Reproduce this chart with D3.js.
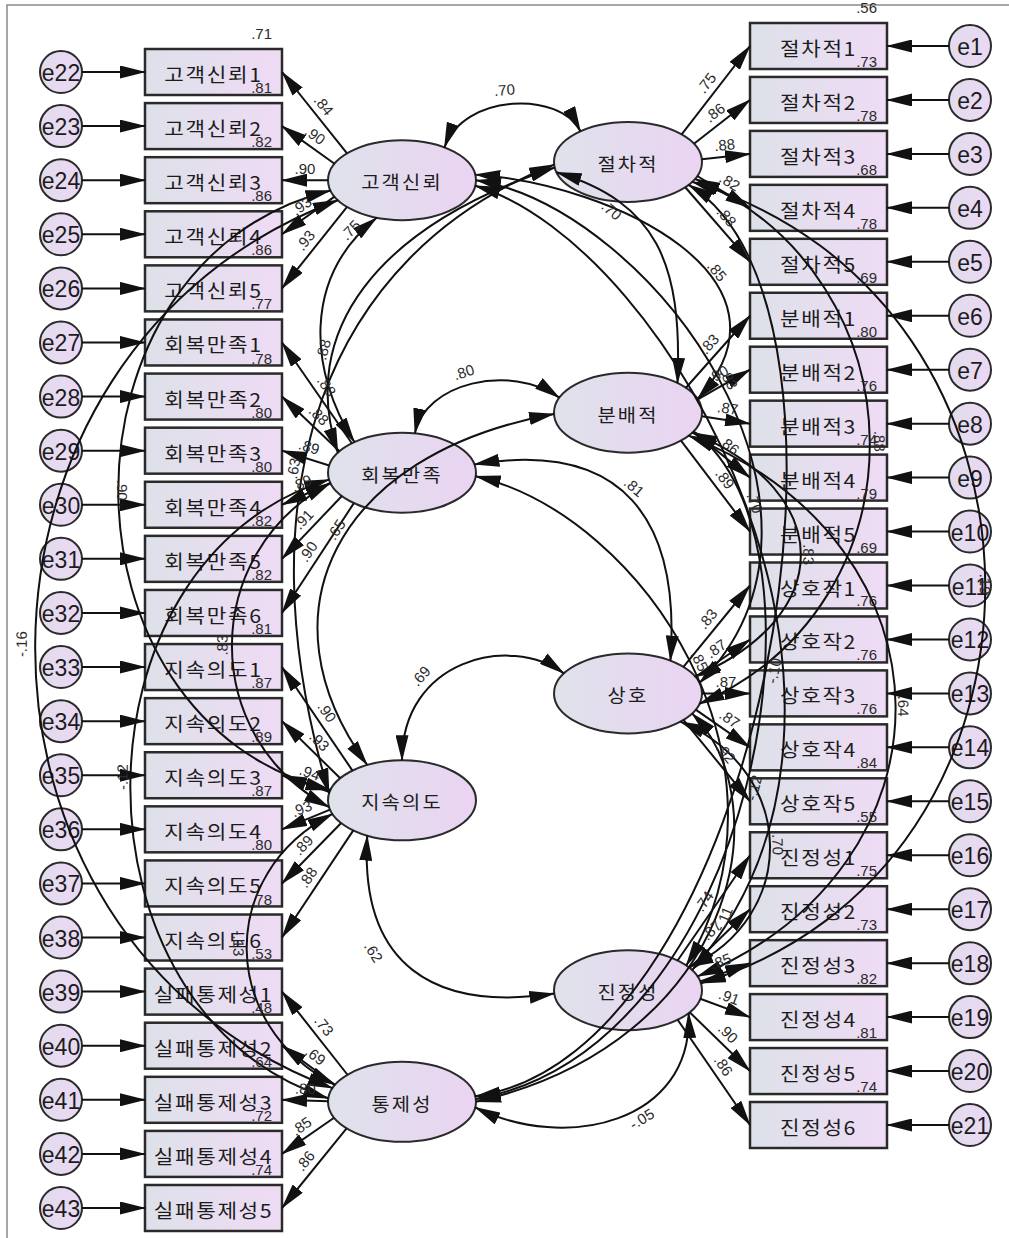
<!DOCTYPE html>
<html>
<head>
<meta charset="utf-8">
<script src="https://cdn.jsdelivr.net/npm/d3@7/dist/d3.min.js"></script>
<style>
  body { margin: 0; background: #fff; }
  svg { display: block; }
  .kr { font-family: "Noto Sans CJK KR", "Noto Sans", sans-serif; fill: #1c1c1c; }
  .num { font-family: "Liberation Sans", Arial, sans-serif; fill: #2b2b2b; font-size: 15px; }
  .err { font-family: "Liberation Sans", Arial, sans-serif; fill: #1c1c1c; font-size: 23px; }
</style>
</head>
<body>
<svg id="chart" width="1009" height="1238"></svg>
<script>
// ---- observed indicators (left column) ----
const leftItems = ["고객신뢰1","고객신뢰2","고객신뢰3","고객신뢰4","고객신뢰5",
  "회복만족1","회복만족2","회복만족3","회복만족4","회복만족5","회복만족6",
  "지속의도1","지속의도2","지속의도3","지속의도4","지속의도5","지속의도6",
  "실패통제성1","실패통제성2","실패통제성3","실패통제성4","실패통제성5"];
const leftErrors = d3.range(22, 44).map(i => "e" + i);
const leftR2 = [.71,.81,.82,.86,.86,.77,.78,.80,.80,.82,.82,.81,.87,.89,.87,.80,.78,.53,.48,.64,.72,.74];

// ---- observed indicators (right column) ----
const rightItems = ["절차적1","절차적2","절차적3","절차적4","절차적5",
  "분배적1","분배적2","분배적3","분배적4","분배적5",
  "상호작1","상호작2","상호작3","상호작4","상호작5",
  "진정성1","진정성2","진정성3","진정성4","진정성5","진정성6"];
const rightErrors = d3.range(1, 22).map(i => "e" + i);
const rightR2 = [.56,.73,.78,.68,.78,.69,.80,.76,.74,.79,.69,.76,.76,.76,.84,.55,.75,.73,.82,.81,.74];

// ---- latent factors ----
const leftLatents = ["고객신뢰","회복만족","지속의도","통제성"];
const leftCounts = [5, 6, 6, 5];
const rightLatents = ["절차적","분배적","상호","진정성"];
const rightCounts = [5, 5, 5, 6];

// standardized loadings
const loadTrust    = [.84,.90,.90,.93,.93];
const loadRecovery = [.88,.88,.89,.89,.91,.90];
const loadIntent   = [.90,.93,.94,.93,.89,.88];
const loadControl  = [.73,.69,.80,.85,.86];
const loadProc     = [.75,.86,.88,.82,.88];
const loadDist     = [.83,.90,.87,.86,.89];
const loadInter    = [.83,.87,.87,.87,.92];
const loadAuth     = [.74,.87,.85,.91,.90,.86];

// factor correlations
const covFrom  = ["고객신뢰","절차적","회복만족","회복만족","지속의도","지속의도","진정성",
  "고객신뢰","고객신뢰","고객신뢰","회복만족","지속의도","회복만족","분배적",
  "회복만족","지속의도","고객신뢰","고객신뢰","고객신뢰","회복만족",
  "절차적","절차적","분배적","분배적","상호","통제성","통제성","통제성"];
const covTo    = ["절차적","분배적","분배적","상호","상호","진정성","통제성",
  "회복만족","지속의도","통제성","통제성","통제성","지속의도","지속의도",
  "절차적","절차적","분배적","상호","진정성","진정성",
  "상호","진정성","상호","진정성","진정성","절차적","분배적","상호"];
const covValue = [.70,.70,.80,.81,.69,.62,-.05,
  .75,.90,-.16,-.12,-.13,.83,.65,
  .88,.63,.85,.83,.70,.85,
  .88,.19,.83,.64,.70,-.10,-.12,-.11];

// ---- layout ----
const W = 1009, H = 1238;
const boxW = 137, boxH = 46;
const leftBoxX = 145, rightBoxX = 750;
const errLeftX = 61, errRightX = 970, errR = 21;
const latCX = { left: 402, right: 628 }, rx = 74, ry = 40;
const leftNudge = [0, -5, -2, 2], rightNudge = [8, -11, 0, 0];

const yLeft = d3.scaleLinear().domain([0, leftItems.length - 1]).range([72, 1208]);
const yRight = d3.scaleLinear().domain([0, rightItems.length - 1]).range([46, 1125]);

const fmt = v => (v < 0 ? "-" : "") + d3.format(".2f")(Math.abs(v)).replace(/^0/, "");

// latent nodes with indicator index ranges
const latents = {};
function buildLatents(names, counts, side, yScale, nudge, loads) {
  let start = 0;
  names.forEach((n, i) => {
    const idx = d3.range(start, start + counts[i]);
    latents[n] = { name: n, side, x: latCX[side],
      y: d3.mean(idx, j => yScale(j)) + nudge[i], idx, loads: loads[i] };
    start += counts[i];
  });
}
buildLatents(leftLatents, leftCounts, "left", yLeft, leftNudge,
  [loadTrust, loadRecovery, loadIntent, loadControl]);
buildLatents(rightLatents, rightCounts, "right", yRight, rightNudge,
  [loadProc, loadDist, loadInter, loadAuth]);

// routing of the correlation curves: anchor angles on ellipses, control offsets, label placement
const covRoute = [
  { aA: -55, bA: -130, c1: [20, -55], c2: [-20, -40], t: .5, lo: [-8, -14] },
  { aA: 165, bA: -48, c1: [100, 30], c2: [5, -120], t: .3, lo: [-16, 2] },
  { aA: -80, bA: -158, c1: [10, -50], c2: [-50, -35], t: .45, lo: [0, -14] },
  { aA: -12, bA: -55, c1: [150, -25], c2: [10, -140], t: .45, lo: [12, -4] },
  { aA: -90, bA: -150, c1: [0, -100], c2: [-55, -40], t: .3, lo: [-6, -14] },
  { aA: 118, bA: 175, c1: [-8, 130], c2: [-120, 18], t: .35, lo: [-14, 10] },
  { aA: 35, bA: 8, c1: [5, 110], c2: [90, 45], t: .4, lo: [0, 12] },
  { aA: 110, bA: -130, c1: [-75, 60], c2: [-45, -70], t: .08, lo: [-10, -3] },
  { aA: 165, bA: 195, c1: [-283, 70], c2: [-283, -70], t: .5, lo: [4, 0] },
  { aA: 150, bA: 200, c1: [-400, 150], c2: [-400, -150], t: .5, lo: [-14, 0] },
  { aA: 170, bA: 185, c1: [-265, 80], c2: [-264, -85], t: .5, lo: [-8, -10] },
  { aA: 160, bA: 205, c1: [-116, 60], c2: [-116, -60], t: .5, lo: [-8, -6] },
  { aA: 165, bA: 170, c1: [-131, 70], c2: [-130, -70], t: .5, lo: [-10, 0] },
  { aA: 178, bA: -118, c1: [-220, 40], c2: [-110, -150], t: .45, lo: [-12, 0] },
  { aA: -150, bA: 172, c1: [-40, -120], c2: [-180, 60], t: .3, lo: [-10, 0] },
  { aA: 190, bA: 176, c1: [-90, -300], c2: [-230, 90], t: .4, lo: [-10, 0] },
  { aA: -8, bA: -20, c1: [140, 10], c2: [110, -120], t: .6, lo: [10, 0] },
  { aA: 0, bA: -15, c1: [180, 30], c2: [170, -170], t: .5, lo: [10, 0] },
  { aA: 8, bA: -30, c1: [200, 60], c2: [230, -260], t: .5, lo: [10, 0] },
  { aA: 5, bA: -38, c1: [170, 40], c2: [120, -200], t: .5, lo: [10, 0] },
  { aA: 25, bA: 15, c1: [230, 100], c2: [230, -100], t: .5, lo: [10, 0] },
  { aA: 30, bA: -10, c1: [390, 118], c2: [380, -114], t: .5, lo: [0, 0] },
  { aA: 30, bA: -25, c1: [145, 60], c2: [141, -60], t: .5, lo: [8, 0] },
  { aA: 35, bA: -20, c1: [275, 110], c2: [265, -110], t: .5, lo: [8, 0] },
  { aA: 45, bA: -35, c1: [118, 50], c2: [110, -50], t: .5, lo: [8, 0] },
  { aA: -8, bA: 35, c1: [290, -40], c2: [200, 120], t: .5, lo: [8, 0] },
  { aA: -4, bA: 28, c1: [280, -50], c2: [150, 110], t: .5, lo: [8, 0] },
  { aA: 0, bA: 30, c1: [260, -60], c2: [90, 90], t: .5, lo: [8, 0] }
];

// ---- drawing ----
const svg = d3.select("#chart");
const defs = svg.append("defs");
function gradient(id, c0, c1) {
  const g = defs.append("linearGradient").attr("id", id)
    .attr("x1", "0%").attr("x2", "100%").attr("y1", "0%").attr("y2", "0%");
  g.append("stop").attr("offset", "0%").attr("stop-color", c0);
  g.append("stop").attr("offset", "100%").attr("stop-color", c1);
}
gradient("gBox", "#dde1e9", "#efdbf5");
gradient("gLat", "#dfe2eb", "#ead4f2");
gradient("gErr", "#e2dcee", "#ebd8f3");

defs.append("marker").attr("id", "ah")
  .attr("viewBox", "0 0 26 13").attr("markerWidth", 26).attr("markerHeight", 13)
  .attr("markerUnits", "userSpaceOnUse").attr("refX", 25).attr("refY", 6.5)
  .attr("orient", "auto-start-reverse")
  .append("path").attr("d", "M0,0L26,6.5L0,13Z").attr("fill", "#111");

// frame
svg.append("path").attr("d", `M7,${H}V5H${W}`).attr("fill", "none")
  .attr("stroke", "#8a8a8a").attr("stroke-width", 1.5);

const gShapes = svg.append("g");
const gNames = svg.append("g");
const gLines = svg.append("g").attr("fill", "none").attr("stroke", "#111").attr("stroke-width", 2);
const gNums = svg.append("g");

function numLabel(x, y, angle, v) {
  gNums.append("text").attr("class", "num")
    .attr("text-anchor", "middle").attr("dominant-baseline", "central")
    .attr("transform", `translate(${x},${y}) rotate(${angle})`)
    .text(fmt(v));
}
function readable(a) {
  while (a > 90) a -= 180;
  while (a <= -90) a += 180;
  return a;
}
function ellPt(L, deg) {
  const r = deg * Math.PI / 180;
  return [L.x + rx * Math.cos(r), L.y + ry * Math.sin(r)];
}

// indicator columns
function column(items, errs, r2, yScale, boxX, errX, side) {
  items.forEach((name, i) => {
    const cy = yScale(i);
    gShapes.append("rect").attr("x", boxX).attr("y", cy - boxH / 2)
      .attr("width", boxW).attr("height", boxH)
      .attr("fill", "url(#gBox)").attr("stroke", "#2a2a2a").attr("stroke-width", 2.5);
    gNames.append("text").attr("class", "kr")
      .attr("transform", `translate(${boxX + boxW / 2},${cy + 2}) scale(1.12,1)`)
      .attr("text-anchor", "middle").attr("dominant-baseline", "central")
      .style("font-size", "19px").style("letter-spacing", "1.5px")
      .text(name);
    gShapes.append("circle").attr("cx", errX).attr("cy", cy).attr("r", errR)
      .attr("fill", "url(#gErr)").attr("stroke", "#2a2a2a").attr("stroke-width", 2);
    gNames.append("text").attr("class", "err").attr("x", errX).attr("y", cy + 1)
      .attr("text-anchor", "middle").attr("dominant-baseline", "central").text(errs[i]);
    // error arrow
    const x0 = side === "left" ? errX + errR : errX - errR;
    const x1 = side === "left" ? boxX : boxX + boxW;
    gLines.append("line").attr("x1", x0).attr("y1", cy).attr("x2", x1).attr("y2", cy)
      .attr("marker-end", "url(#ah)");
    // squared multiple correlation
    gNums.append("text").attr("class", "num").attr("text-anchor", "end")
      .attr("x", boxX + boxW - 10).attr("y", cy - boxH / 2 - 10).text(fmt(r2[i]));
  });
}
column(leftItems, leftErrors, leftR2, yLeft, leftBoxX, errLeftX, "left");
column(rightItems, rightErrors, rightR2, yRight, rightBoxX, errRightX, "right");

// latent ellipses and loadings
Object.values(latents).forEach(L => {
  gShapes.append("ellipse").attr("cx", L.x).attr("cy", L.y).attr("rx", rx).attr("ry", ry)
    .attr("fill", "url(#gLat)").attr("stroke", "#2a2a2a").attr("stroke-width", 2);
  gNames.append("text").attr("class", "kr")
    .attr("transform", `translate(${L.x},${L.y + 1}) scale(1.1,1)`)
    .attr("text-anchor", "middle").attr("dominant-baseline", "central")
    .style("font-size", "18px").style("letter-spacing", "2px").text(L.name);
  const yS = L.side === "left" ? yLeft : yRight;
  const tx = L.side === "left" ? leftBoxX + boxW : rightBoxX;
  L.idx.forEach((j, k) => {
    const ty = yS(j);
    const phi = Math.atan2(ty - L.y, tx - L.x) * 180 / Math.PI;
    const [sx, sy] = ellPt(L, phi);
    gLines.append("line").attr("x1", sx).attr("y1", sy).attr("x2", tx).attr("y2", ty)
      .attr("marker-end", "url(#ah)");
    // label above the line, reading left to right
    const [lx0, ly0, lx1, ly1] = L.side === "left" ? [tx, ty, sx, sy] : [sx, sy, tx, ty];
    const dx = lx1 - lx0, dy = ly1 - ly0, len = Math.hypot(dx, dy);
    const off = 12;
    numLabel((lx0 + lx1) / 2 + off * dy / len, (ly0 + ly1) / 2 - off * dx / len,
      Math.atan2(dy, dx) * 180 / Math.PI, L.loads[k]);
  });
});

// correlation curves
function bez(p, t) {
  const u = 1 - t;
  return [0, 1].map(k => u*u*u*p[0][k] + 3*u*u*t*p[1][k] + 3*u*t*t*p[2][k] + t*t*t*p[3][k]);
}
function bezD(p, t) {
  const u = 1 - t;
  return [0, 1].map(k => 3*u*u*(p[1][k]-p[0][k]) + 6*u*t*(p[2][k]-p[1][k]) + 3*t*t*(p[3][k]-p[2][k]));
}
covValue.forEach((v, i) => {
  const r = covRoute[i];
  const A = latents[covFrom[i]], B = latents[covTo[i]];
  const p0 = ellPt(A, r.aA), p3 = ellPt(B, r.bA);
  const p1 = [p0[0] + r.c1[0], p0[1] + r.c1[1]];
  const p2 = [p3[0] + r.c2[0], p3[1] + r.c2[1]];
  const P = [p0, p1, p2, p3];
  const path = d3.path();
  path.moveTo(...p0);
  path.bezierCurveTo(...p1, ...p2, ...p3);
  gLines.append("path").attr("d", path.toString())
    .attr("marker-start", "url(#ah)").attr("marker-end", "url(#ah)");
  const [lx, ly] = bez(P, r.t);
  const [ddx, ddy] = bezD(P, r.t);
  numLabel(lx + r.lo[0], ly + r.lo[1], readable(Math.atan2(ddy, ddx) * 180 / Math.PI), v);
});
</script>
</body>
</html>
